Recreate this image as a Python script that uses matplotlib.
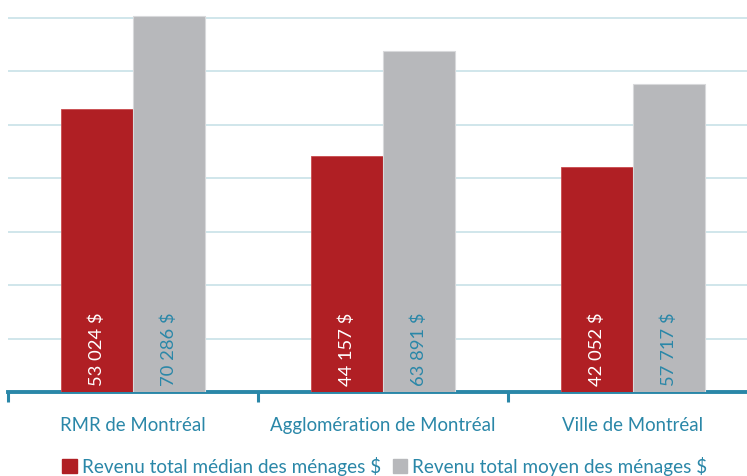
import numpy as np
import matplotlib.pyplot as plt
from matplotlib.patches import Patch

plt.rcParams['font.family'] = ['Lato', 'DejaVu Sans']

categories = ['RMR de Montréal', 'Agglomération de Montréal', 'Ville de Montréal']
median_income = [53024, 44157, 42052]
mean_income = [70286, 63891, 57717]
median_labels = ['53 024 $', '44 157 $', '42 052 $']
mean_labels = ['70 286 $', '63 891 $', '57 717 $']
series_names = ['Revenu total médian des ménages $', 'Revenu total moyen des ménages $']

red = '#B01F24'
grey = '#B7B8BB'
teal = '#2A87A8'
grid_col = '#C8E2E8'

W, H = 747, 476
fig = plt.figure(figsize=(W / 100, H / 100), dpi=100)
# axes runs past the right edge, like the original
ymax = 72000
px_per_unit = 374 / 70000
ax = fig.add_axes([8 / W, 84 / H, 750 / W, ymax * px_per_unit / H])

x = np.arange(len(categories))
bw = 0.288
ax.bar(x - bw / 2, median_income, bw, color=red, edgecolor='#C94A4E', linewidth=0.6, zorder=3)
ax.bar(x + bw / 2, mean_income, bw, color=grey, edgecolor='#D8D9DB', linewidth=0.8, zorder=3)

for i in range(len(categories)):
    ax.text(x[i] - bw / 2, 1100, median_labels[i], rotation=90, ha='center', va='bottom',
            color='white', fontsize=13.2, zorder=4)
    ax.text(x[i] + bw / 2, 1100, mean_labels[i], rotation=90, ha='center', va='bottom',
            color=teal, fontsize=13.2, zorder=4)

ax.set_xlim(-0.5, 2.5)
ax.set_ylim(0, ymax)
ax.set_yticks(np.arange(10000, 70001, 10000))
ax.yaxis.grid(True, color=grid_col, linewidth=1.2, zorder=0)
ax.tick_params(axis='y', length=0, labelleft=False)

ax.set_xticks(x)
ax.set_xticklabels(categories, color=teal, fontsize=13.4)
ax.tick_params(axis='x', which='major', length=0, pad=18)
ax.set_xticks([-0.5, 0.5, 1.5, 2.5], minor=True)
ax.tick_params(axis='x', which='minor', length=7, width=2.2, color=teal, direction='out')

for s in ['top', 'right', 'left']:
    ax.spines[s].set_visible(False)
ax.spines['bottom'].set_color(teal)
ax.spines['bottom'].set_linewidth(2.8)

handles = [Patch(color=red), Patch(color=grey)]
fig.legend(handles, series_names, loc='center', bbox_to_anchor=(385 / W, 10 / H),
           ncol=2, frameon=False, fontsize=13.6, labelcolor=teal,
           handlelength=0.75, handleheight=0.75, handletextpad=0.3, columnspacing=0.6)

fig.savefig('out.png', dpi=100)
